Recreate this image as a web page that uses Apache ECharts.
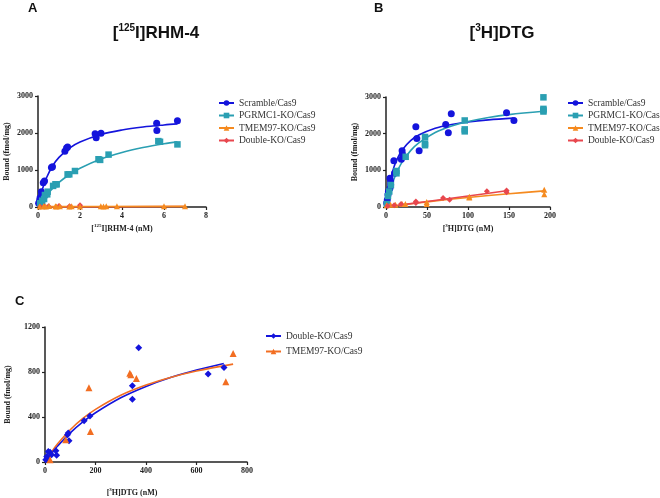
<!DOCTYPE html>
<html>
<head>
<meta charset="utf-8">
<script src="https://cdn.jsdelivr.net/npm/echarts@6/dist/echarts.min.js"></script>
<style>html,body{margin:0;padding:0;background:#fff}#c{width:660px;height:498px}</style>
</head>
<body>
<div id="c"></div>
<script>
// ---------- Panel A : [125I]RHM-4 ----------
const A_X_TICKS = [0, 2, 4, 6, 8];
const A_Y_TICKS = [0, 1000, 2000, 3000];
const A_SCRAMBLE = [[0.03,100],[0.08,180],[0.1,250],[0.16,410],[0.18,330],[0.25,657],[0.31,700],[0.64,1069],[0.69,1090],[1.28,1505],[1.36,1594],[1.41,1620],[2.72,1977],[2.77,1870],[3.0,1995],[5.65,2262],[5.66,2066],[6.64,2333]];
const A_PGRMC1 = [[0.1,100],[0.2,170],[0.29,216],[0.33,324],[0.44,342],[0.46,414],[0.72,570],[0.83,614],[0.89,613],[1.41,882],[1.49,882],[1.76,973],[2.88,1291],[2.96,1273],[3.36,1416],[5.73,1781],[5.81,1763],[6.64,1692]];
const A_TMEM97 = [[0.08,15],[0.27,20],[0.37,15],[0.53,25],[0.83,20],[0.88,15],[1.04,20],[1.49,15],[1.6,20],[2.0,15],[2.99,20],[3.12,15],[3.25,20],[3.76,20],[6.0,20],[7.0,20]];
const A_DOUBLE = [[0.1,10],[0.3,15],[0.5,20],[1.0,25],[1.5,20],[2.0,45]];
const A_SCRAMBLE_FIT = [[0,0],[0.05,134],[0.1,255],[0.2,464],[0.4,785],[0.7,1116],[1,1342],[1.5,1594],[2,1759],[3,1962],[4,2082],[5,2161],[6,2217],[6.64,2246]];
const A_PGRMC1_FIT = [[0,0],[0.1,88],[0.25,208],[0.5,384],[1,665],[1.5,879],[2,1049],[3,1299],[4,1474],[5,1606],[6,1709],[6.64,1760]];
const A_TMEM97_FIT = [[0,0],[0.5,10],[7,18]];
const A_DOUBLE_FIT = [[0,0],[7,15]];

// ---------- Panel B : [3H]DTG ----------
const B_X_TICKS = [0, 50, 100, 150, 200];
const B_Y_TICKS = [0, 1000, 2000, 3000];
const B_SCRAMBLE = [[0.8,108],[1.6,198],[2.4,333],[3,420],[4.8,514],[4.8,784],[5.6,694],[5.7,605],[9.6,1261],[10.4,919],[18.7,1300],[19.6,1532],[20,1445],[36.4,2189],[37.6,1865],[40.4,1532],[72.8,2252],[76,2027],[79.6,2541],[147,2568],[156,2360]];
const B_PGRMC1 = [[1,80],[2.4,300],[4,423],[6,600],[12.8,982],[12.8,919],[24,1369],[47.6,1910],[47.6,1730],[47.6,1685],[96,2360],[96,2117],[96,2063],[192,2991],[192,2676],[192,2604],[192,2640]];
const B_TMEM97 = [[0.8,45],[5.6,63],[11.6,63],[19.6,81],[23.6,81],[49.6,81],[49.6,135],[101.6,261],[101.6,280],[193,468],[193,351]];
const B_DOUBLE = [[2,30],[10,50],[18.4,81],[36.4,153],[36.4,108],[69.6,243],[77.6,198],[123,432],[147,450],[147,405]];
const B_SCRAMBLE_FIT = [[0,0],[2,335],[5,703],[10,1111],[15,1376],[20,1563],[30,1809],[40,1963],[60,2147],[80,2251],[100,2319],[125,2376],[155,2423]];
const B_PGRMC1_FIT = [[0,0],[2,197],[5,447],[10,779],[15,1033],[20,1236],[30,1538],[40,1750],[60,2032],[80,2210],[100,2332],[125,2441],[150,2519],[192,2610]];
const B_TMEM97_FIT = [[0,0],[50,140],[100,260],[150,360],[193,440]];
const B_DOUBLE_FIT = [[0,0],[50,150],[100,300],[147,441]];

// ---------- Panel C : [3H]DTG (high range) ----------
const C_X_TICKS = [0, 200, 400, 600, 800];
const C_Y_TICKS = [0, 400, 800, 1200];
const C_DOUBLE = [[3,21],[7,50],[9,35],[13,94],[20,86],[26,65],[43,100],[46,59],[89,242],[92,257],[95,189],[155,366],[178,410],[346,678],[346,557],[371,1015],[646,782],[709,841]];
const C_TMEM97 = [[20,21],[82,198],[174,661],[180,271],[336,788],[340,775],[362,743],[716,714],[745,965]];
const C_DOUBLE_FIT = [[0,0],[25,75],[50,142],[100,259],[150,356],[200,438],[300,571],[400,672],[500,753],[600,818],[708,876]];
const C_TMEM97_FIT = [[0,0],[25,86],[50,162],[100,287],[150,387],[200,468],[300,593],[400,684],[500,754],[600,809],[745,870]];

const BLUE = '#1414dc', TEAL = '#2a9fb2', ORANGE = '#f58a1f', RED = '#e8474e', ORANGE_C = '#f26e22';
const SERIF = "'Liberation Serif', 'DejaVu Serif', serif";
const SANS = "'Liberation Sans', Arial, sans-serif";

const axisRich = {
  s: { fontFamily: SERIF, fontWeight: 'bold', fontSize: 5, color: '#222', verticalAlign: 'top', lineHeight: 6 },
  n: { fontFamily: SERIF, fontWeight: 'bold', fontSize: 8, color: '#222', lineHeight: 12 }
};
function xAxis(grid, ticks, name, nameGap, padRight) {
  return {
    type: 'value', gridIndex: grid,
    min: ticks[0], max: ticks[ticks.length - 1], interval: ticks[1] - ticks[0],
    name: name, nameLocation: 'middle', nameGap: nameGap,
    nameTextStyle: { fontFamily: SERIF, fontWeight: 'bold', fontSize: 8, color: '#222',
      padding: [0, padRight || 0, 0, 0], rich: axisRich },
    axisLine: { lineStyle: { color: '#222', width: 1.5 } },
    axisTick: { show: true, length: 3, lineStyle: { color: '#222', width: 1.2 } },
    axisLabel: { fontFamily: SERIF, fontWeight: 'bold', fontSize: 8, color: '#222', margin: 5,
      formatter: v => String(v) },
    splitLine: { show: false }
  };
}
function yAxis(grid, ticks, nameGap) {
  return {
    type: 'value', gridIndex: grid,
    min: ticks[0], max: ticks[ticks.length - 1], interval: ticks[1] - ticks[0],
    name: 'Bound (fmol/mg)', nameLocation: 'middle', nameGap: nameGap, nameRotate: 90,
    nameTextStyle: { fontFamily: SERIF, fontWeight: 'bold', fontSize: 8, color: '#222' },
    axisLine: { show: true, lineStyle: { color: '#222', width: 1.5 } },
    axisTick: { show: true, length: 3, lineStyle: { color: '#222', width: 1.2 } },
    axisLabel: { fontFamily: SERIF, fontWeight: 'bold', fontSize: 8, color: '#222', margin: 5,
      formatter: v => String(v) },
    splitLine: { show: false }
  };
}
function pts(name, grid, data, color, symbol, size) {
  return { name: name, type: 'scatter', xAxisIndex: grid, yAxisIndex: grid, data: data,
    symbol: symbol, symbolSize: size, itemStyle: { color: color, opacity: 1 }, clip: false, z: 3, silent: true };
}
function fit(name, grid, data, color, symbol) {
  return { name: name, type: 'line', xAxisIndex: grid, yAxisIndex: grid, data: data, smooth: 0.35,
    symbol: symbol, symbolSize: 6, showSymbol: false, itemStyle: { color: color },
    lineStyle: { color: color, width: 1.6 }, clip: false, z: 2, silent: true };
}
function legend(names, left, top, gap) {
  return { data: names, left: left, top: top, orient: 'vertical', itemWidth: 15, itemHeight: 7, itemGap: gap,
    padding: 0, formatter: n => n.split('|')[1], selectedMode: false,
    textStyle: { fontFamily: SERIF, fontSize: 9.5, color: '#333', padding: [0, 0, 0, 0] } };
}
const titleRich = {
  s: { fontFamily: SANS, fontWeight: 'bold', fontSize: 10, fill: '#111', verticalAlign: 'top', lineHeight: 10 },
  m: { fontFamily: SANS, fontWeight: 'bold', fontSize: 17, fill: '#111', lineHeight: 20 }
};

const option = {
  backgroundColor: '#fff',
  animation: false,
  grid: [
    { left: 38, top: 96, width: 168, height: 111 },
    { left: 386, top: 97, width: 164, height: 110 },
    { left: 45, top: 327, width: 202, height: 135 }
  ],
  xAxis: [
    xAxis(0, A_X_TICKS, '{n|[}{s|125}{n|I]RHM-4 (nM)}', 16),
    xAxis(1, B_X_TICKS, '{n|[}{s|3}{n|H]DTG (nM)}', 16),
    xAxis(2, C_X_TICKS, '{n|[}{s|3}{n|H]DTG (nM)}', 25, 28)
  ],
  yAxis: [ yAxis(0, A_Y_TICKS, 27), yAxis(1, B_Y_TICKS, 27), yAxis(2, C_Y_TICKS, 33) ],
  legend: [
    legend(['A|Scramble/Cas9', 'A|PGRMC1-KO/Cas9', 'A|TMEM97-KO/Cas9', 'A|Double-KO/Cas9'], 218, 98, 2.5),
    legend(['B|Scramble/Cas9', 'B|PGRMC1-KO/Cas9', 'B|TMEM97-KO/Cas9', 'B|Double-KO/Cas9'], 567, 98, 2.5),
    legend(['C|Double-KO/Cas9', 'C|TMEM97-KO/Cas9'], 265, 331, 5.5)
  ],
  graphic: [
    { type: 'text', style: { text: 'A', x: 28, y: 2, fontFamily: SANS, fontWeight: 'bold', fontSize: 13, fill: '#111' } },
    { type: 'text', style: { text: 'B', x: 374, y: 2, fontFamily: SANS, fontWeight: 'bold', fontSize: 13, fill: '#111' } },
    { type: 'text', style: { text: 'C', x: 15, y: 295, fontFamily: SANS, fontWeight: 'bold', fontSize: 13, fill: '#111' } },
    { type: 'text', style: { text: '{m|[}{s|125}{m|I]RHM-4}', x: 156, y: 23, align: 'center', rich: titleRich } },
    { type: 'text', style: { text: '{m|[}{s|3}{m|H]DTG}', x: 502, y: 23, align: 'center', rich: titleRich } }
  ],
  series: [
    fit('A|Scramble/Cas9', 0, A_SCRAMBLE_FIT, BLUE, 'circle'),
    fit('A|PGRMC1-KO/Cas9', 0, A_PGRMC1_FIT, TEAL, 'rect'),
    fit('A|Double-KO/Cas9', 0, A_DOUBLE_FIT, RED, 'diamond'),
    fit('A|TMEM97-KO/Cas9', 0, A_TMEM97_FIT, ORANGE, 'triangle'),
    pts('A|Scramble/Cas9', 0, A_SCRAMBLE, BLUE, 'circle', 7),
    pts('A|PGRMC1-KO/Cas9', 0, A_PGRMC1, TEAL, 'rect', 6.5),
    pts('A|Double-KO/Cas9', 0, A_DOUBLE, RED, 'diamond', 6),
    pts('A|TMEM97-KO/Cas9', 0, A_TMEM97, ORANGE, 'triangle', 6),

    fit('B|Scramble/Cas9', 1, B_SCRAMBLE_FIT, BLUE, 'circle'),
    fit('B|PGRMC1-KO/Cas9', 1, B_PGRMC1_FIT, TEAL, 'rect'),
    fit('B|TMEM97-KO/Cas9', 1, B_TMEM97_FIT, ORANGE, 'triangle'),
    fit('B|Double-KO/Cas9', 1, B_DOUBLE_FIT, RED, 'diamond'),
    pts('B|Scramble/Cas9', 1, B_SCRAMBLE, BLUE, 'circle', 7),
    pts('B|PGRMC1-KO/Cas9', 1, B_PGRMC1, TEAL, 'rect', 6.5),
    pts('B|TMEM97-KO/Cas9', 1, B_TMEM97, ORANGE, 'triangle', 6),
    pts('B|Double-KO/Cas9', 1, B_DOUBLE, RED, 'diamond', 6),

    fit('C|Double-KO/Cas9', 2, C_DOUBLE_FIT, BLUE, 'diamond'),
    fit('C|TMEM97-KO/Cas9', 2, C_TMEM97_FIT, ORANGE_C, 'triangle'),
    pts('C|Double-KO/Cas9', 2, C_DOUBLE, BLUE, 'diamond', 7),
    pts('C|TMEM97-KO/Cas9', 2, C_TMEM97, ORANGE_C, 'triangle', 7)
  ]
};
const chart = echarts.init(document.getElementById('c'), null, { renderer: 'canvas' });
chart.setOption(option);
</script>
</body>
</html>
